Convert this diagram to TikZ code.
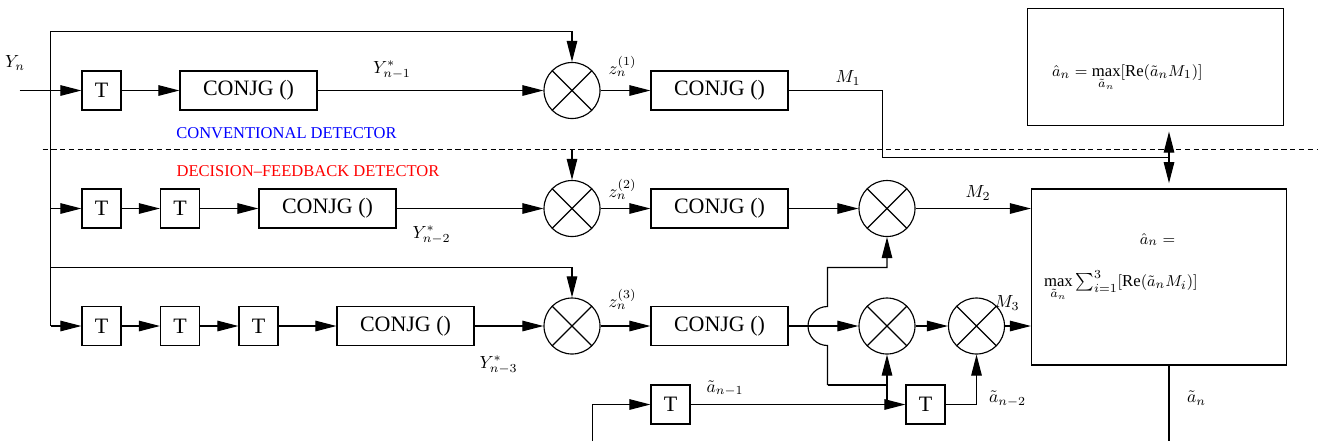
\documentclass[tikz,border=0pt]{standalone}
\usepackage{fontspec}
\setmainfont{Liberation Serif}
\usetikzlibrary{arrows.meta}

\begin{document}
\begin{tikzpicture}[>={Triangle[length=12pt,width=6pt]}, line width=0.65pt,
  box/.style={draw,minimum height=0.78cm,inner sep=0pt,font=\fontsize{12.5}{14}\selectfont},
  tbox/.style={box,minimum width=0.78cm},
  cbox/.style={box,minimum width=2.74cm},
  mult/.style={circle,draw,minimum size=1.12cm,inner sep=0pt,
    path picture={\draw (path picture bounding box.north west)--(path picture bounding box.south east)
      (path picture bounding box.north east)--(path picture bounding box.south west);}},
  lbl/.style={font=\fontsize{10}{12}\selectfont},
  rule/.style={font=\fontsize{9.5}{12}\selectfont,inner sep=0pt},
  tag/.style={font=\fontsize{9.4}{11}\selectfont}]
\useasboundingbox (0,0) rectangle (26.36,-8.82);

% conventional detector
\node[tbox] (t11) at (2.03,-1.81) {T};
\node[cbox] (c11) at (4.97,-1.81) {CONJG ()};
\node[mult] (x1) at (11.44,-1.81) {};
\node[cbox] (c12) at (14.39,-1.81) {CONJG ()};
\node[draw,minimum width=5.11cm,minimum height=2.35cm] (decA) at (23.11,-1.34) {};

% decision-feedback detector
\node[tbox] (t21) at (2.03,-4.17) {T};
\node[tbox] (t22) at (3.60,-4.17) {T};
\node[cbox] (c21) at (6.55,-4.17) {CONJG ()};
\node[mult] (x2) at (11.44,-4.17) {};
\node[cbox] (c22) at (14.39,-4.17) {CONJG ()};
\node[mult] (x4) at (17.74,-4.17) {};

\foreach \i/\x in {1/2.03,2/3.60,3/5.17}
    \node[tbox] (t3\i) at (\x,-6.52) {T};
\node[cbox] (c31) at (8.11,-6.52) {CONJG ()};
\node[mult] (x3) at (11.44,-6.52) {};
\node[cbox] (c32) at (14.39,-6.52) {CONJG ()};
\node[mult] (x5) at (17.74,-6.52) {};
\node[mult] (x6) at (19.53,-6.52) {};

\node[tbox] (t41) at (13.41,-8.09) {T};
\node[tbox] (t42) at (18.51,-8.09) {T};
\node[draw,minimum width=5.10cm,minimum height=3.52cm] (decB) at (23.18,-5.54) {};

% bus and taps
\coordinate (in) at (0.39,-1.81);
\coordinate (bt) at (1.01,-0.63);
\coordinate (bm) at (1.01,-5.35);
\coordinate (bb) at (1.01,-6.52);
\coordinate (cut) at (11.44,-3.00);
\coordinate (m1c) at (17.65,-3.15);
\coordinate (tap) at (23.38,-3.15);
\coordinate (fin) at (11.85,-8.82);
\coordinate (j2) at (16.55,-7.70);

\draw[->] (in) -- (t11);
\draw[->] (bb) -- (bt) -| (x1);
\draw[->] (t11) -- (c11);
\draw[->] (c11) -- (x1);
\draw[->] (x1) -- (c12);
\draw (c12) -| (m1c) -- (tap);
\draw[->,shorten >=3pt] (tap) -- (tap |- decA.south);
\draw[->,shorten >=3pt] (tap) -- (tap |- decB.north);

\draw[line width=0.5pt,dash pattern=on 3pt off 2pt] (0.85,-2.98) -- (26.36,-2.98);

\draw[->] (cut) -- (x2);
\draw[->] (bb |- t21) -- (t21);
\draw[->] (t21) -- (t22);
\draw[->] (t22) -- (c21);
\draw[->] (c21) -- (x2);
\draw[->] (x2) -- (c22);
\draw[->] (c22) -- (x4);
\draw[->] (x4) -- (x4 -| decB.west);

\draw[->] (bm) -| (x3);
\draw[->] (bb) -- (t31);
\draw[->] (t31) -- (t32);
\draw[->] (t32) -- (t33);
\draw[->] (t33) -- (c31);
\draw[->] (c31) -- (x3);
\draw[->] (x3) -- (c32);
\draw[->] (c32) -- (x5);
\draw[->] (x5) -- (x6);
\draw[->] (x6) -- (x6 -| decB.west);

% feedback of the decisions
\draw[->] (fin) |- (t41);
\draw[->] (t41) -- (t42);
\draw[->] (x5 |- t41) -- (x5);
\draw (x5 |- j2) -- (j2);
\draw[->] (j2) -- (16.55,-6.91) arc[start angle=270,end angle=90,radius=0.39] -- (16.55,-5.35) -| (x4);
\draw[->] (t42) -| (x6);
\draw (tap |- decB.south) -- (tap |- fin);

% labels
\node[lbl] (yn) at (0.30,-1.26) {$Y_n$};
\node[lbl] (y1) at (7.84,-1.40) {$Y^*_{n-1}$};
\node[lbl] (y2) at (8.63,-4.70) {$Y^*_{n-2}$};
\node[lbl] (y3) at (9.97,-7.30) {$Y^*_{n-3}$};
\node[lbl] (z1) at (12.45,-1.33) {$z_n^{(1)}$};
\node[lbl] (z2) at (12.45,-3.79) {$z_n^{(2)}$};
\node[lbl] (z3) at (12.45,-5.99) {$z_n^{(3)}$};
\node[lbl] (m1) at (16.96,-1.56) {$M_1$};
\node[lbl] (m2) at (19.56,-3.86) {$M_2$};
\node[lbl] (m3) at (20.14,-6.06) {$M_3$};
\node[lbl] (a1) at (14.50,-7.77) {$\tilde a_{n-1}$};
\node[lbl] (a2) at (20.15,-7.98) {$\tilde a_{n-2}$};
\node[lbl] (an) at (23.93,-7.96) {$\tilde a_n$};

\node[tag,text=blue] (conv) at (5.73,-2.66) {CONVENTIONAL DETECTOR};
\node[tag,text=red] (dfd) at (6.16,-3.43) {DECISION--FEEDBACK DETECTOR};

\node[rule,anchor=base west] (fa) at (21.03,-1.53)
    {$\hat a_n=\max\limits_{\tilde a_n}[\mathrm{Re}(\tilde a_n M_1)]$};
\node[rule,anchor=base] (fb1) at (23.15,-4.88) {$\hat a_n=$};
\node[rule,anchor=base west] (fb2) at (20.87,-5.73)
    {$\max\limits_{\tilde a_n}\sum_{i=1}^{3}[\mathrm{Re}(\tilde a_n M_i)]$};
\end{tikzpicture}
\end{document}
